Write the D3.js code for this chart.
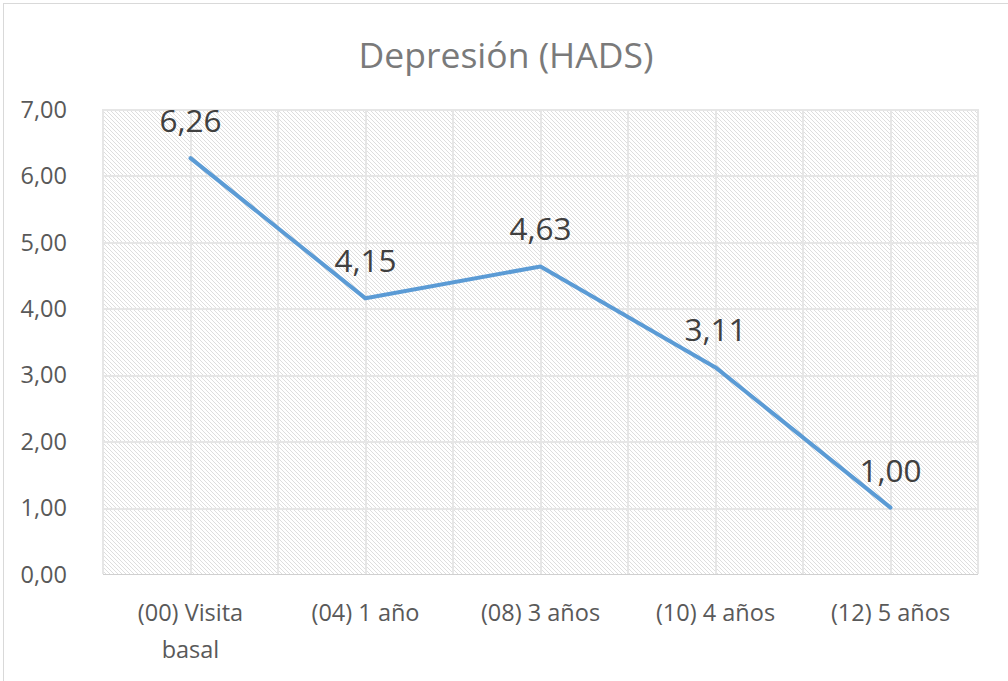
<!DOCTYPE html>
<html><head><meta charset="utf-8">
<script src="https://cdn.jsdelivr.net/npm/d3@7"></script>
<style>body{margin:0;background:#fff}svg{display:block}text{font-family:"Open Sans","Liberation Sans",sans-serif}</style>
</head><body><svg id="c" width="1008" height="681"></svg>
<script>
const categories = [["(00) Visita","basal"],["(04) 1 año"],["(08) 3 años"],["(10) 4 años"],["(12) 5 años"]];
const values = [6.26, 4.15, 4.63, 3.11, 1.00];
const yTicks = [0,1,2,3,4,5,6,7];
const title = "Depresión (HADS)";

const svg = d3.select("#c");
const W = 1008, H = 681;
const m = {l:103, r:30, t:109, b:107};
const x = d3.scaleBand().domain(d3.range(categories.length)).range([m.l, W - m.r]);
const y = d3.scaleLinear().domain([0,7]).range([H - m.b, m.t]);
const fmt = v => v.toFixed(2).replace(".", ",");

svg.append("rect").attr("x",3.5).attr("y",3.5).attr("width",W-3).attr("height",H-3)
  .attr("fill","#fff").attr("stroke","#d9d9d9");

const defs = svg.append("defs");
const pat = defs.append("pattern").attr("id","hatch").attr("patternUnits","userSpaceOnUse")
  .attr("width",4).attr("height",4);
[[0,0],[1,1],[2,2],[3,3]].forEach(([a,b])=>pat.append("rect").attr("x",a).attr("y",b).attr("width",1).attr("height",1).attr("fill","#dedede"));

svg.append("rect").attr("x",m.l).attr("y",m.t).attr("width",W-m.r-m.l).attr("height",y(0)-m.t)
  .attr("fill","url(#hatch)").attr("shape-rendering","crispEdges");

// grid
const g = svg.append("g").attr("shape-rendering","crispEdges");
yTicks.forEach(t => g.append("line").attr("x1",m.l).attr("x2",W-m.r).attr("y1",Math.round(y(t))+0.5).attr("y2",Math.round(y(t))+0.5)
  .attr("stroke", t===0 ? "#d0d0d0" : "#e6e6e6").attr("stroke-width",t===0?1.5:2));
const vx = [];
categories.forEach((c,i)=>{vx.push(x(i)); vx.push(x(i)+x.bandwidth()/2);});
vx.push(x(categories.length-1)+x.bandwidth());
vx.forEach(v => g.append("line").attr("x1",v).attr("x2",v).attr("y1",m.t).attr("y2",y(0)).attr("stroke","#e6e6e6").attr("stroke-width",2));

// y labels
const ya = svg.append("g").attr("transform",`translate(${m.l-33},0)`)
  .call(d3.axisLeft(y).tickValues(yTicks).tickFormat(fmt).tickSize(0));
ya.select(".domain").remove();
ya.selectAll("text").attr("font-size",23.5).attr("fill","#595959").attr("dy","0.35em");

// x labels
categories.forEach((c,i)=>{
  const t = svg.append("text").attr("x",x(i)+x.bandwidth()/2).attr("y",621).attr("text-anchor","middle")
    .attr("font-size",23.5).attr("fill","#595959");
  c.forEach((ln,j)=>t.append("tspan").attr("x",x(i)+x.bandwidth()/2).attr("dy", j?37:0).text(ln));
});

// line
const line = d3.line().x((d,i)=>x(i)+x.bandwidth()/2).y(d=>y(d));
svg.append("path").datum(values).attr("d",line).attr("fill","none").attr("stroke","#5b9bd5")
  .attr("stroke-width",4).attr("stroke-linejoin","round").attr("stroke-linecap","round");

// data labels
values.forEach((v,i)=>svg.append("text").attr("x",x(i)+x.bandwidth()/2).attr("y",y(v)-26)
  .attr("text-anchor","middle").attr("font-size",31.5).attr("fill","#404040").text(fmt(v)));

svg.append("text").attr("x",506).attr("y",68).attr("text-anchor","middle").attr("font-size",35.5)
  .attr("fill","#7a7a7a").text(title);
</script></body></html>
